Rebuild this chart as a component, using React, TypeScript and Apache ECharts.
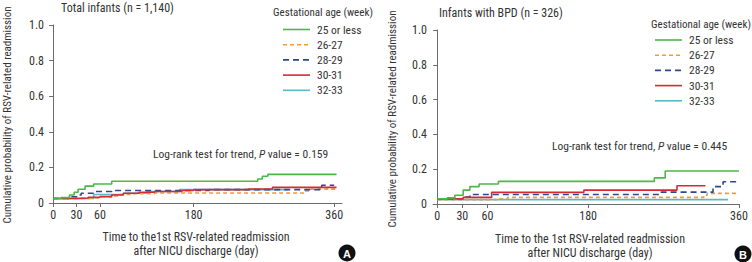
import React, { useEffect, useRef } from "react";
import * as echarts from "echarts";

const groups = ["25 or less", "26-27", "28-29", "30-31", "32-33"];
const colors = ["#4cb848", "#f29a3a", "#2b4a8e", "#d42a33", "#5ab8c8"];
const dashes: (number[] | null)[] = [null, [4, 3], [6, 4], null, null];
const xTicks = [0, 30, 60, 180, 360];
const yTicks = [0, 0.2, 0.4, 0.6, 0.8, 1.0];

// Panel A: Total infants (n = 1,140)
const leftGreen = [[0, 0.025], [10, 0.03], [21, 0.045], [27, 0.06], [32, 0.077], [41, 0.095], [52, 0.107], [75, 0.122], [262, 0.135], [268, 0.15], [275, 0.161], [363, 0.161]];
const leftOrange = [[0, 0.025], [35, 0.028], [60, 0.035], [75, 0.04], [85, 0.048], [100, 0.052], [130, 0.056], [316, 0.056], [322, 0.068], [330, 0.078], [363, 0.078]];
const leftNavy = [[0, 0.025], [23, 0.035], [32, 0.045], [36, 0.055], [53, 0.065], [75, 0.07], [200, 0.075], [344, 0.1], [360, 0.1]];
const leftRed = [[0, 0.025], [30, 0.028], [45, 0.032], [60, 0.036], [75, 0.045], [90, 0.055], [110, 0.06], [130, 0.065], [165, 0.07], [180, 0.075], [250, 0.079], [281, 0.088], [363, 0.088]];
const leftCyan = [[0, 0.025], [52, 0.048], [90, 0.055], [120, 0.065], [162, 0.075], [300, 0.08]];

// Panel B: Infants with BPD (n = 326)
const rightGreen = [[0, 0.03], [12, 0.035], [21, 0.05], [31, 0.08], [39, 0.1], [50, 0.115], [73, 0.13], [259, 0.15], [272, 0.19], [360, 0.19]];
const rightOrange = [[0, 0.025], [74, 0.03], [84, 0.038], [312, 0.038], [318, 0.05], [322, 0.061], [357, 0.061]];
const rightNavy = [[0, 0.03], [31, 0.04], [39, 0.055], [267, 0.068], [329, 0.1], [341, 0.128], [357, 0.128]];
const rightRed = [[0, 0.03], [31, 0.038], [65, 0.067], [175, 0.08], [286, 0.105], [320, 0.105]];
const rightCyan = [[0, 0.025], [347, 0.025]];

const leftData = [leftGreen, leftOrange, leftNavy, leftRed, leftCyan];
const rightData = [rightGreen, rightOrange, rightNavy, rightRed, rightCyan];

const FONT = "'Liberation Sans Narrow', 'Arial Narrow', 'Roboto Condensed', sans-serif";
const TXT = "#333";
const AXIS = "#6b6b6b";

function makeAxes(idx: number, min: number, max: number) {
  const x = {
    type: "value",
    gridIndex: idx,
    min,
    max,
    axisLine: { show: true, lineStyle: { color: AXIS, width: 1 } },
    axisTick: { show: true, length: 4, customValues: xTicks, lineStyle: { color: AXIS } },
    axisLabel: { customValues: xTicks, color: TXT, fontFamily: FONT, fontSize: 12, margin: 6 },
    splitLine: { show: false },
  };
  const y = {
    type: "value",
    gridIndex: idx,
    min: 0,
    max: 1,
    interval: 0.2,
    axisLine: { show: true, lineStyle: { color: AXIS, width: 1 } },
    axisTick: { show: true, length: 4, lineStyle: { color: AXIS } },
    axisLabel: {
      color: TXT,
      fontFamily: FONT,
      fontSize: 12,
      margin: 6,
      formatter: (v: number) => (v === 0 ? "0" : v.toFixed(1)),
    },
    splitLine: { show: false },
  };
  return { x, y };
}

function legendGraphics(x0: number, y0: number, titleY: number, titleX: number) {
  const els: any[] = [
    {
      type: "text",
      x: titleX,
      y: titleY,
      style: { text: "Gestational age (week)", font: `11px ${FONT}`, fill: TXT, verticalAlign: "middle" },
    },
  ];
  groups.forEach((g, i) => {
    const yy = y0 + i * 15.2;
    els.push({
      type: "line",
      shape: { x1: x0, y1: yy, x2: x0 + 27, y2: yy },
      style: { stroke: colors[i], lineWidth: 1.6, lineDash: dashes[i] || undefined },
    });
    els.push({
      type: "text",
      x: x0 + 34,
      y: yy,
      style: { text: g, font: `11.5px ${FONT}`, fill: TXT, verticalAlign: "middle" },
    });
  });
  return els;
}

function circleLetter(cx: number, cy: number, letter: string) {
  return [
    { type: "circle", shape: { cx, cy, r: 8.5 }, style: { fill: "#111" } },
    {
      type: "text",
      x: cx,
      y: cy + 0.5,
      style: { text: letter, font: `bold 11px 'Liberation Sans', Arial, sans-serif`, fill: "#fff", align: "center", verticalAlign: "middle" },
    },
  ];
}

export default function App() {
  const ref = useRef<HTMLDivElement>(null);
  useEffect(() => {
    document.body.style.margin = "0";
    if (!ref.current) return;
    const chart = echarts.init(ref.current, undefined, { renderer: "svg" });
    const a0 = makeAxes(0, -4, 370);
    const a1 = makeAxes(1, -5, 360);
    const order = [4, 1, 2, 3, 0];
    const series: any[] = [];
    [leftData, rightData].forEach((panel, p) => {
      order.forEach((i) => {
        series.push({
          type: "line",
          name: groups[i],
          xAxisIndex: p,
          yAxisIndex: p,
          step: "end",
          showSymbol: false,
          symbol: "none",
          data: panel[i],
          lineStyle: { color: colors[i], width: 1.6, type: dashes[i] || "solid" },
          itemStyle: { color: colors[i] },
          z: 2 + order.indexOf(i),
        });
      });
    });
    const logRank = (pv: string) =>
      `{n|Log-rank test for trend, }{i|P}{n| value = ${pv}}`;
    const rich = {
      n: { font: `11.5px ${FONT}`, fill: TXT, color: TXT },
      i: { font: `italic 11.5px ${FONT}`, fill: TXT, color: TXT },
    };
    chart.setOption({
      animation: false,
      backgroundColor: "#fff",
      grid: [
        { left: 50, top: 25, width: 292, height: 178 },
        { left: 433, top: 30, width: 306, height: 174 },
      ],
      xAxis: [a0.x, a1.x],
      yAxis: [a0.y, a1.y],
      series,
      graphic: [
        // titles
        { type: "text", x: 61, y: 7.5, style: { text: "Total infants (n = 1,140)", font: `12px ${FONT}`, fill: TXT, verticalAlign: "middle" } },
        { type: "text", x: 439, y: 12.5, style: { text: "Infants with BPD (n = 326)", font: `12px ${FONT}`, fill: TXT, verticalAlign: "middle" } },
        // y titles
        { type: "text", x: 7, y: 115, rotation: Math.PI / 2, style: { text: "Cumulative probability of RSV-related readmission", font: `11px ${FONT}`, fill: TXT, align: "center", verticalAlign: "middle" } },
        { type: "text", x: 392, y: 119, rotation: Math.PI / 2, style: { text: "Cumulative probability of RSV-related readmission", font: `11px ${FONT}`, fill: TXT, align: "center", verticalAlign: "middle" } },
        // x titles
        { type: "text", x: 196, y: 237, style: { text: "Time to the1st RSV-related readmission", font: `12px ${FONT}`, fill: TXT, align: "center", verticalAlign: "middle" } },
        { type: "text", x: 196, y: 251, style: { text: "after NICU discharge (day)", font: `12px ${FONT}`, fill: TXT, align: "center", verticalAlign: "middle" } },
        { type: "text", x: 590, y: 239, style: { text: "Time to the 1st RSV-related readmission", font: `12px ${FONT}`, fill: TXT, align: "center", verticalAlign: "middle" } },
        { type: "text", x: 590, y: 253, style: { text: "after NICU discharge (day)", font: `12px ${FONT}`, fill: TXT, align: "center", verticalAlign: "middle" } },
        // log-rank
        { type: "text", x: 153, y: 154, style: { text: logRank("0.159"), rich, font: `11.5px ${FONT}`, fill: TXT, verticalAlign: "middle" } },
        { type: "text", x: 552, y: 146, style: { text: logRank("0.445"), rich, font: `11.5px ${FONT}`, fill: TXT, verticalAlign: "middle" } },
        ...legendGraphics(283, 29.5, 12.5, 273),
        ...legendGraphics(655, 40, 24, 651),
        ...circleLetter(347, 253, "A"),
        ...circleLetter(743, 254, "B"),
      ],
    });
    return () => chart.dispose();
  }, []);
  return <div ref={ref} style={{ width: 752, height: 262 }} />;
}
